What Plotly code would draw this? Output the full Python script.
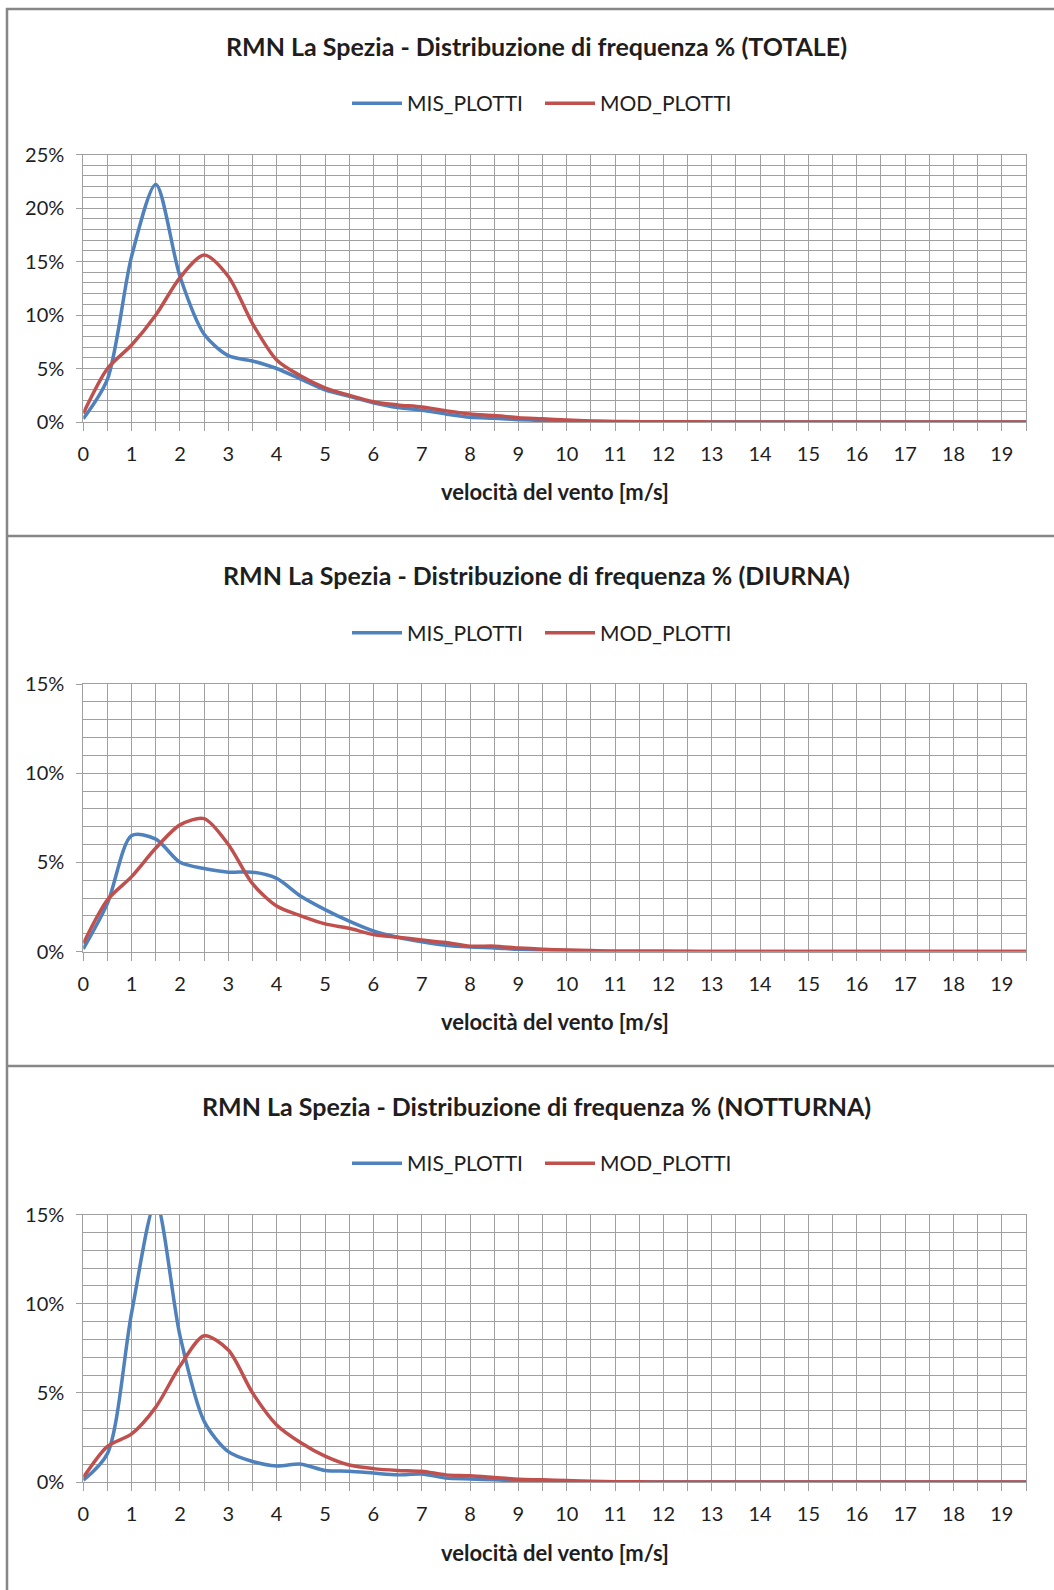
import plotly.graph_objects as go

# wind speed categories (m/s)
velocita = [0, 0.5, 1, 1.5, 2, 2.5, 3, 3.5, 4, 4.5,
            5, 5.5, 6, 6.5, 7, 7.5, 8, 8.5, 9, 9.5,
            10, 10.5, 11, 11.5, 12, 12.5, 13, 13.5, 14, 14.5,
            15, 15.5, 16, 16.5, 17, 17.5, 18, 18.5, 19, 19.5]

# frequency % - TOTALE
mis_totale = [0.3, 4.0, 15.5, 22.2, 13.6, 8.2, 6.2, 5.7, 5.0, 4.0,
              3.0, 2.4, 1.8, 1.35, 1.1, 0.75, 0.45, 0.35, 0.22, 0.14,
              0.08, 0.05, 0.03, 0.02, 0.01, 0.01, 0.01, 0.0, 0.0, 0.0,
              0.0, 0.0, 0.0, 0.0, 0.0, 0.0, 0.0, 0.0, 0.0, 0.0]
mod_totale = [0.8, 5.0, 7.2, 10.0, 13.5, 15.6, 13.6, 9.2, 5.8, 4.3,
              3.2, 2.5, 1.9, 1.6, 1.4, 1.05, 0.75, 0.6, 0.4, 0.3,
              0.18, 0.1, 0.05, 0.03, 0.02, 0.02, 0.01, 0.01, 0.01, 0.01,
              0.0, 0.0, 0.0, 0.0, 0.0, 0.0, 0.0, 0.0, 0.0, 0.0]

# frequency % - DIURNA
mis_diurna = [0.15, 2.7, 6.5, 6.3, 5.0, 4.65, 4.45, 4.45, 4.1, 3.1,
              2.35, 1.7, 1.15, 0.8, 0.55, 0.35, 0.25, 0.2, 0.12, 0.08,
              0.05, 0.03, 0.01, 0.01, 0.01, 0.0, 0.0, 0.0, 0.0, 0.0,
              0.0, 0.0, 0.0, 0.0, 0.0, 0.0, 0.0, 0.0, 0.0, 0.0]
mod_diurna = [0.45, 2.9, 4.2, 5.8, 7.1, 7.45, 6.0, 3.8, 2.55, 2.0,
              1.55, 1.3, 0.95, 0.8, 0.65, 0.5, 0.3, 0.3, 0.2, 0.13,
              0.08, 0.05, 0.02, 0.01, 0.01, 0.01, 0.0, 0.0, 0.0, 0.0,
              0.0, 0.0, 0.0, 0.0, 0.0, 0.0, 0.0, 0.0, 0.0, 0.0]

# frequency % - NOTTURNA
mis_notturna = [0.1, 1.6, 9.5, 15.7, 8.2, 3.4, 1.7, 1.15, 0.9, 1.0,
                0.65, 0.6, 0.5, 0.4, 0.45, 0.22, 0.17, 0.12, 0.07, 0.05,
                0.03, 0.02, 0.01, 0.0, 0.0, 0.0, 0.0, 0.0, 0.0, 0.0,
                0.0, 0.0, 0.0, 0.0, 0.0, 0.0, 0.0, 0.0, 0.0, 0.0]
mod_notturna = [0.25, 2.0, 2.7, 4.2, 6.5, 8.2, 7.4, 5.0, 3.2, 2.2,
                1.45, 0.95, 0.75, 0.65, 0.6, 0.4, 0.35, 0.25, 0.15, 0.12,
                0.08, 0.04, 0.02, 0.01, 0.0, 0.0, 0.0, 0.0, 0.0, 0.0,
                0.0, 0.0, 0.0, 0.0, 0.0, 0.0, 0.0, 0.0, 0.0, 0.0]

x_ticks = list(range(0, 20))
titoli = ["RMN La Spezia - Distribuzione di frequenza % (TOTALE)",
          "RMN La Spezia - Distribuzione di frequenza % (DIURNA)",
          "RMN La Spezia - Distribuzione di frequenza % (NOTTURNA)"]
y_max = [25, 15, 15]
serie = [(mis_totale, mod_totale), (mis_diurna, mod_diurna), (mis_notturna, mod_notturna)]

W, H = 1054, 1590
FONT = "Lato"
TXT = "#1e1e1e"
GRID = "#a0a0a0"
BLUE = "#4f81bd"
RED = "#c0504d"


def fx(px):
    return px / W


def fy(py):
    return 1 - py / H


# vertical pixel offset of each chart from the first one
offsets = [0, 529.5, 1060]

fig = go.Figure()
annotations = []
shapes = []

for i, (mis, mod) in enumerate(serie):
    n = "" if i == 0 else str(i + 1)
    off = offsets[i]
    leg = "legend" + n
    fig.add_trace(go.Scatter(x=velocita, y=mis, name="MIS_PLOTTI", mode="lines",
                             line=dict(color=BLUE, width=3.5, shape="spline", smoothing=0.8),
                             xaxis="x" + n, yaxis="y" + n, legend=leg))
    fig.add_trace(go.Scatter(x=velocita, y=mod, name="MOD_PLOTTI", mode="lines",
                             line=dict(color=RED, width=3.5, shape="spline", smoothing=0.8),
                             xaxis="x" + n, yaxis="y" + n, legend=leg))

    top, bottom = 154.5 + off, 422 + off
    fig.update_layout({
        "xaxis" + n: dict(
            domain=[fx(83.3), fx(1026)], range=[0, 19.5], anchor="y" + n,
            tickvals=x_ticks, ticks="outside", ticklen=8, tickcolor=GRID,
            showgrid=True, gridcolor=GRID, gridwidth=1,
            showline=True, linecolor=GRID, mirror=True, zeroline=False,
            minor=dict(dtick=0.5, tick0=0, ticks="outside", ticklen=8, tickcolor=GRID,
                       showgrid=True, gridcolor=GRID),
            tickfont=dict(family=FONT, size=20, color=TXT), ticklabelstandoff=6,
            automargin=False, fixedrange=True,
        ),
        "yaxis" + n: dict(
            domain=[fy(bottom), fy(top)], range=[0, y_max[i]], anchor="x" + n,
            dtick=5, ticksuffix="%", ticks="outside", ticklen=6, tickcolor=GRID,
            showgrid=True, gridcolor=GRID, zeroline=False,
            showline=True, linecolor=GRID, mirror=True,
            minor=dict(dtick=1, showgrid=True, gridcolor=GRID),
            tickfont=dict(family=FONT, size=20, color=TXT), ticklabelstandoff=8,
            automargin=False, fixedrange=True,
        ),
        leg: dict(
            orientation="h", x=fx(540), xanchor="center", y=fy(103.5 + off), yanchor="middle",
            font=dict(family=FONT, size=21, color=TXT), bgcolor="rgba(0,0,0,0)",
            itemwidth=50, entrywidth=128,
        ),
    })

    annotations.append(dict(text=titoli[i], x=fx(536), y=fy(45.5 + off), xref="paper", yref="paper",
                            showarrow=False, xanchor="center", yanchor="middle",
                            font=dict(family=FONT, size=25, color=TXT, weight="bold")))
    annotations.append(dict(text="velocità del vento [m/s]", x=fx(555), y=fy(492 + off),
                            xref="paper", yref="paper", showarrow=False,
                            xanchor="center", yanchor="middle",
                            font=dict(family=FONT, size=22, color=TXT, weight="bold")))

# chart frames
for y in [9, 536, 1066]:
    shapes.append(dict(type="line", xref="paper", yref="paper", x0=fx(6), x1=1,
                       y0=fy(y), y1=fy(y), line=dict(color="#878787", width=2.5)))
shapes.append(dict(type="line", xref="paper", yref="paper", x0=fx(7), x1=fx(7),
                   y0=fy(8), y1=0, line=dict(color="#878787", width=2.5)))

fig.update_layout(
    width=W, height=H, margin=dict(l=0, r=0, t=0, b=0, autoexpand=False),
    paper_bgcolor="white", plot_bgcolor="white",
    annotations=annotations, shapes=shapes,
)

# the page's default body margin would push the figure off by 8px
fig.write_html("out.html", config={"displayModeBar": False},
               post_script="document.body.style.margin = '0';")
